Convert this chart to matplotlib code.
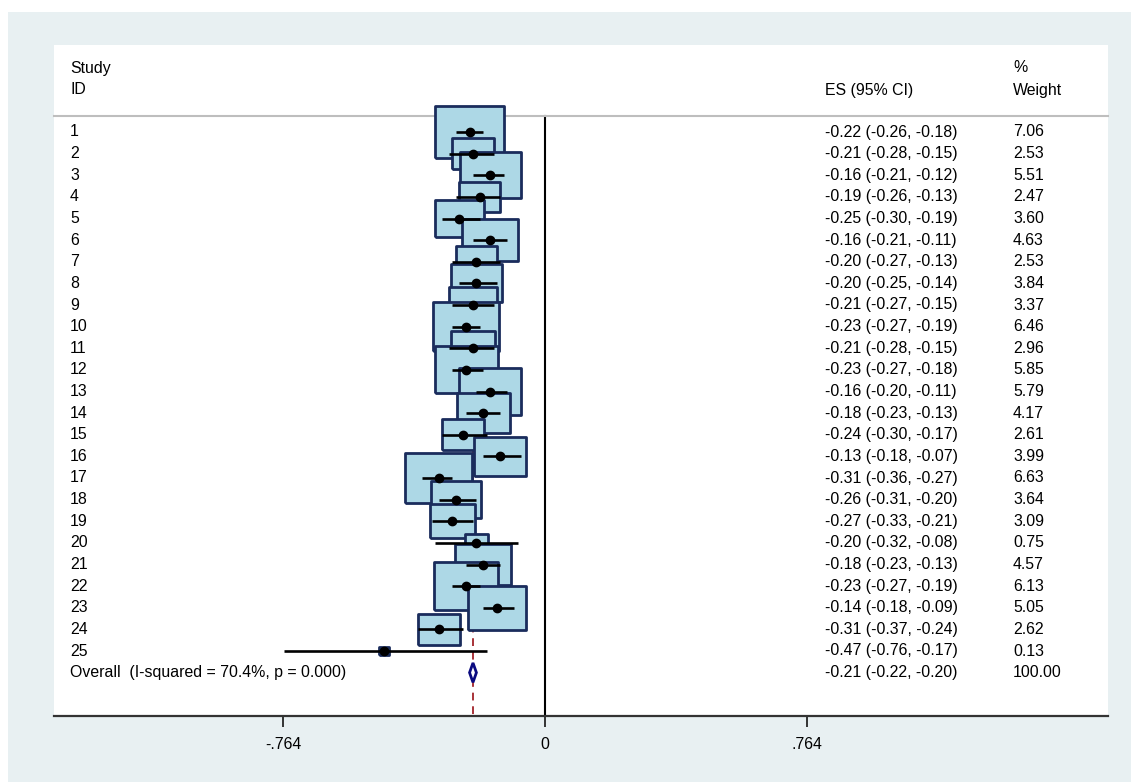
import matplotlib
matplotlib.use("Agg")
import matplotlib.pyplot as plt
from matplotlib.patches import Rectangle, Polygon
from matplotlib.transforms import blended_transform_factory

plt.rcParams["font.family"] = ["Liberation Sans", "DejaVu Sans"]

# study data
study_ids = [str(i) for i in range(1, 26)]
es = [-0.22, -0.21, -0.16, -0.19, -0.25, -0.16, -0.20, -0.20, -0.21, -0.23, -0.21, -0.23, -0.16,
      -0.18, -0.24, -0.13, -0.31, -0.26, -0.27, -0.20, -0.18, -0.23, -0.14, -0.31, -0.47]
lo = [-0.26, -0.28, -0.21, -0.26, -0.30, -0.21, -0.27, -0.25, -0.27, -0.27, -0.28, -0.27, -0.20,
      -0.23, -0.30, -0.18, -0.36, -0.31, -0.33, -0.32, -0.23, -0.27, -0.18, -0.37, -0.76]
hi = [-0.18, -0.15, -0.12, -0.13, -0.19, -0.11, -0.13, -0.14, -0.15, -0.19, -0.15, -0.18, -0.11,
      -0.13, -0.17, -0.07, -0.27, -0.20, -0.21, -0.08, -0.13, -0.19, -0.09, -0.24, -0.17]
weights = [7.06, 2.53, 5.51, 2.47, 3.60, 4.63, 2.53, 3.84, 3.37, 6.46, 2.96, 5.85, 5.79,
           4.17, 2.61, 3.99, 6.63, 3.64, 3.09, 0.75, 4.57, 6.13, 5.05, 2.62, 0.13]
overall_label = "Overall  (I-squared = 70.4%, p = 0.000)"
overall_es, overall_lo, overall_hi = -0.21, -0.22, -0.20
overall_weight = 100.00
xticks = [-0.764, 0, 0.764]
xtick_labels = ["-.764", "0", ".764"]

W, H = 1131, 782
fig = plt.figure(figsize=(W / 100, H / 100), dpi=100)
fig.patch.set_facecolor("white")
fig.add_artist(Rectangle((8 / W, 0), 1 - 8 / W, 1 - 12 / H, transform=fig.transFigure,
                         facecolor="#E8F0F2", edgecolor="none", zorder=-10))

ax = fig.add_axes([54 / W, (H - 716) / H, (1108 - 54) / W, (716 - 45) / H])
ax.set_facecolor("white")

px_per_unit = 262 / 0.764
row_px = 21.625
ax.set_xlim((54 - 545) / px_per_unit, (1108 - 545) / px_per_unit)
ax.set_ylim(1 + (716 - 132) / row_px, 1 - (132 - 45) / row_px)

rows = list(range(1, len(es) + 1))
overall_row = len(es) + 1
header_y = 1 - (132 - 116) / row_px

# overall dashed line (behind boxes) and null line
ax.plot([overall_es, overall_es], [1 - 0.5, ax.get_ylim()[0]], color="#A83238", lw=1.4,
        ls=(0, (4, 3)), zorder=1)
ax.plot([0, 0], [header_y, ax.get_ylim()[0]], color="black", lw=1.5, zorder=1)
ax.plot(ax.get_xlim(), [header_y, header_y], color="#BEBEBE", lw=1.5, zorder=1, clip_on=False)

# weight boxes, area proportional to weight
box = [(-1, -0.75), (1, -0.75), (1, 0.75), (-1, 0.75), (-1, -0.75)]
ax.scatter(es, rows, s=[350 * w for w in weights], marker=box, facecolor="#ADD8E6",
           edgecolor="#1A2C5C", linewidths=2.0, zorder=2)

for r, e, l, h in zip(rows, es, lo, hi):
    ax.plot([l, h], [r, r], color="black", lw=1.9, zorder=3, solid_capstyle="butt")
ax.plot(es, rows, "o", color="black", ms=6, zorder=4)

diamond = Polygon([(overall_lo, overall_row), (overall_es, overall_row - 0.45),
                   (overall_hi, overall_row), (overall_es, overall_row + 0.45)],
                  closed=True, facecolor="white", edgecolor="#0A0A80", lw=2.0, zorder=4)
ax.add_patch(diamond)

# text columns
fs = 11.4
tr = blended_transform_factory(ax.transAxes, ax.transData)
x_id = (70 - 54) / 1054
x_es = (825 - 54) / 1054
x_wt = (1013 - 54) / 1054
ax.text(x_id, 1 - (132 - 68) / row_px, "Study", transform=tr, fontsize=fs, va="center")
ax.text(x_id, 1 - (132 - 90) / row_px, "ID", transform=tr, fontsize=fs, va="center")
ax.text(x_es, 1 - (132 - 90) / row_px, "ES (95% CI)", transform=tr, fontsize=fs, va="center")
ax.text(x_wt, 1 - (132 - 68) / row_px, "%", transform=tr, fontsize=fs, va="center")
ax.text(x_wt, 1 - (132 - 90) / row_px, "Weight", transform=tr, fontsize=fs, va="center")

for r, sid, e, l, h, w in zip(rows, study_ids, es, lo, hi, weights):
    ax.text(x_id, r, sid, transform=tr, fontsize=fs, va="center")
    ax.text(x_es, r, f"{e:.2f} ({l:.2f}, {h:.2f})", transform=tr, fontsize=fs, va="center")
    ax.text(x_wt, r, f"{w:.2f}", transform=tr, fontsize=fs, va="center")

ax.text(x_id, overall_row, overall_label, transform=tr, fontsize=fs, va="center")
ax.text(x_es, overall_row, f"{overall_es:.2f} ({overall_lo:.2f}, {overall_hi:.2f})",
        transform=tr, fontsize=fs, va="center")
ax.text(x_wt, overall_row, f"{overall_weight:.2f}", transform=tr, fontsize=fs, va="center")

# axis styling
for side in ["top", "left", "right"]:
    ax.spines[side].set_visible(False)
ax.spines["bottom"].set_color("#333333")
ax.spines["bottom"].set_linewidth(1.6)
ax.set_yticks([])
ax.set_xticks(xticks)
ax.set_xticklabels(xtick_labels)
ax.tick_params(axis="x", length=8, width=1.4, color="#333333", labelsize=fs, pad=7)

fig.savefig("out.png", dpi=100)
